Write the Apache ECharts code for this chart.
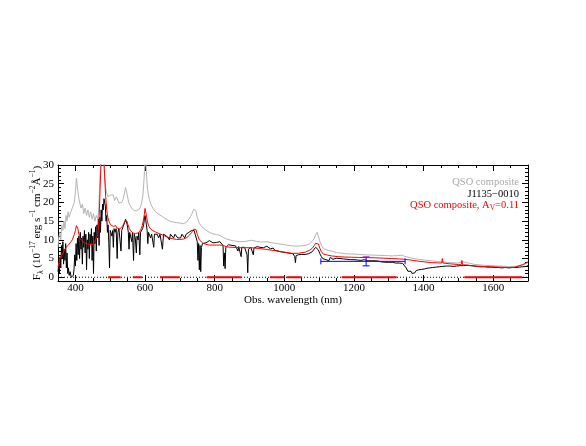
<!DOCTYPE html>
<html><head><meta charset="utf-8">
<script src="https://cdn.jsdelivr.net/npm/echarts@6/dist/echarts.min.js"></script>
<style>html,body{margin:0;padding:0;background:#fff}#c{width:586px;height:446px}</style>
</head><body><div id="c"></div>
<script>
// ---------- data ----------
const xRange = [350, 1700];
const yRange = [-1, 30];
const xMajorTicks = [400, 600, 800, 1000, 1200, 1400, 1600];
const yMajorTicks = [0, 5, 10, 15, 20, 25, 30];

// QSO composite (grey)
const compositeSpec = [
[350,8.0],[352,10.5],[355,12.0],[358,10.0],[361,14.0],[364,12.5],[367,15.0],[370,13.0],[373,16.5],[376,15.0],
[379,17.5],[382,16.0],[385,17.0],[388,16.5],[391,18.5],[394,18.0],[397,20.0],[400,23.0],[403,26.5],[405,26.0],
[407,23.0],[410,21.0],[413,20.5],[416,18.5],[420,19.5],[424,17.0],[428,18.5],[432,16.5],[436,18.0],[440,16.0],
[444,17.5],[448,15.5],[452,17.0],[456,15.0],[460,16.5],[464,15.5],[467,18.0],[469,23.0],[472,30.0],[475,35],
[478,34],[481,32],[484,27.0],[487,24.0],[490,22.5],[494,21.5],[498,21.0],[502,22.0],[506,22.5],[509,22.0],
[512,20.5],[515,20.5],[518,21.5],[521,21.0],[525,19.8],[529,19.5],[533,20.0],[537,20.8],[541,22.5],[544,24.0],
[546,23.5],[549,22.0],[553,20.0],[558,19.0],[563,18.3],[569,17.8],[575,17.8],[581,18.0],[586,18.6],[590,19.8],
[594,22.0],[597,26.0],[599,29.5],[601,32],[603,30.0],[605,26.0],[608,23.0],[612,21.0],[617,19.5],[622,18.5],
[630,17.5],[640,16.8],[650,16.2],[660,15.6],[670,15.0],[680,14.8],[690,14.6],[700,14.5],[710,14.3],[720,14.8],
[728,15.8],[734,16.8],[740,18.2],[743,18.6],[746,17.8],[750,16.0],[756,14.4],[765,13.3],[775,12.6],[785,12.0],
[795,11.6],[805,11.4],[815,11.2],[825,10.6],[835,10.2],[850,9.8],[870,9.5],[890,9.6],[905,9.9],[920,9.6],
[935,9.4],[950,9.5],[965,9.2],[980,9.0],[1000,8.7],[1020,8.4],[1040,8.3],[1060,8.5],[1072,8.9],[1080,9.6],
[1086,10.4],[1090,11.3],[1094,12.0],[1098,11.0],[1102,9.6],[1108,8.2],[1115,7.6],[1125,7.2],[1136,7.0],[1150,6.6],
[1174,6.3],[1200,6.2],[1230,6.0],[1261,5.9],[1290,5.8],[1310,5.7],[1325,5.8],[1337,5.9],[1345,5.6],[1366,5.1],
[1385,4.8],[1404,4.6],[1430,4.3],[1452,4.1],[1454,4.6],[1456,4.1],[1480,3.9],[1500,3.8],[1510,4.2],[1513,3.8],
[1548,3.4],[1575,3.2],[1596,3.1],[1620,3.0],[1644,2.9],[1660,2.9],[1672,3.0],[1685,3.3],[1696,3.7],[1700,3.9]
];

// J1135-0010 (black)
const objectSpec = [
[350,1.5],[352,3.5],[354,1.0],[356,5.5],[358,2.5],[360,8.5],[362,5.0],[364,9.5],[366,3.5],[368,7.5],
[370,4.5],[372,9.0],[374,2.5],[376,6.5],[378,1.0],[380,2.5],[382,0.5],[385,1.5],[388,0.0],[391,-0.3],
[394,0.5],[396,2.0],[398,6.0],[400,3.0],[402,9.0],[404,4.5],[406,10.5],[408,6.0],[410,11.0],[412,5.0],
[414,12.0],[416,7.5],[418,10.5],[420,3.5],[422,11.0],[424,8.0],[426,12.5],[428,6.5],[430,11.5],[432,2.0],
[434,10.0],[436,7.5],[438,12.0],[440,5.0],[442,11.5],[444,9.0],[446,13.0],[448,4.5],[450,11.0],[452,1.0],
[454,12.0],[456,9.0],[458,13.5],[460,7.0],[462,14.0],[464,10.5],[466,15.5],[468,8.5],[470,16.0],[472,12.0],
[474,18.0],[476,15.0],[478,19.5],[480,18.0],[482,21.0],[484,20.5],[486,19.0],[488,15.0],[490,16.5],[492,12.0],
[494,14.0],[496,9.0],[498,2.5],[500,12.5],[502,13.0],[505,11.0],[507,12.5],[509,8.0],[511,13.0],[514,12.0],
[517,13.0],[520,5.0],[522,12.0],[525,13.0],[528,12.5],[531,7.0],[533,12.5],[537,13.5],[541,14.5],[544,15.5],
[546,15.0],[549,14.0],[552,12.0],[554,7.5],[556,12.0],[559,11.5],[562,9.5],[564,12.0],[567,4.5],[569,11.5],
[572,10.5],[575,6.5],[577,11.0],[580,10.0],[582,12.0],[585,6.0],[587,12.0],[590,12.5],[593,13.0],[596,14.0],
[598,15.5],[600,16.5],[602,16.0],[604,14.0],[606,12.5],[608,9.0],[610,12.0],[613,11.5],[616,10.5],[619,11.5],
[622,11.0],[625,8.0],[627,11.5],[631,11.0],[635,11.5],[639,10.5],[643,11.5],[647,11.0],[650,7.5],[653,11.5],
[658,12.0],[662,11.0],[666,11.5],[670,10.0],[673,11.5],[678,11.0],[682,10.5],[686,11.5],[690,11.0],[694,10.5],
[698,11.0],[702,10.5],[706,11.5],[710,11.0],[714,10.5],[718,11.5],[722,11.0],[726,12.0],[730,11.5],[734,12.5],
[738,12.0],[741,12.5],[744,11.5],[746,12.0],[748,11.0],[750,9.5],[752,4.5],[754,9.0],[756,2.0],[758,8.5],
[760,1.5],[762,8.0],[765,9.0],[770,9.5],[775,9.2],[780,9.5],[785,9.8],[790,9.4],[795,9.2],[800,9.5],
[805,9.3],[810,9.0],[815,9.5],[820,9.2],[824,8.5],[826,3.0],[828,6.5],[830,2.3],[832,8.0],[836,8.5],
[840,8.7],[845,8.3],[850,8.5],[855,8.2],[860,8.4],[865,8.0],[867,7.0],[869,8.2],[873,8.0],[876,5.5],
[878,8.0],[882,7.8],[886,8.0],[890,7.7],[893,6.0],[895,1.2],[897,7.5],[900,7.9],[904,8.0],[908,7.6],
[911,6.0],[913,7.8],[917,7.7],[922,8.2],[926,7.8],[930,8.0],[935,7.6],[940,7.9],[945,8.1],[950,8.3],
[955,8.0],[960,7.6],[965,7.2],[968,7.8],[973,7.2],[978,7.0],[985,6.9],[990,7.0],[995,6.7],[1000,6.8],
[1005,6.6],[1010,6.5],[1015,6.4],[1020,6.2],[1025,6.3],[1030,5.5],[1032,3.9],[1034,5.8],[1040,6.0],[1045,6.2],
[1050,6.1],[1055,6.0],[1060,6.1],[1065,6.2],[1070,6.3],[1075,6.5],[1080,6.8],[1085,7.2],[1090,8.0],[1094,8.2],
[1098,7.3],[1102,6.3],[1106,5.6],[1110,5.0],[1115,4.8],[1120,4.7],[1125,4.9],[1128,4.4],[1132,5.3],[1136,5.1],
[1140,4.8],[1145,5.0],[1150,5.1],[1155,4.9],[1160,5.0],[1165,4.8],[1170,4.9],[1175,4.7],[1180,4.8],[1185,4.6],
[1190,4.7],[1195,4.6],[1200,4.7],[1205,4.5],[1210,4.6],[1215,4.7],[1220,4.5],[1225,4.6],[1230,4.7],[1235,4.5],
[1240,4.4],[1245,4.5],[1250,4.4],[1255,4.3],[1260,4.4],[1265,4.2],[1270,4.3],[1275,4.2],[1280,4.1],[1285,4.2],
[1290,4.0],[1295,4.1],[1300,4.0],[1305,3.9],[1310,4.0],[1315,3.9],[1320,3.8],[1325,3.9],[1330,3.8],[1335,3.7],
[1340,3.7],[1345,3.4],[1350,2.5],[1355,1.6],[1360,1.1],[1364,1.6],[1367,1.0],[1371,1.5],[1375,1.2],[1379,1.8],
[1382,1.3],[1386,2.0],[1390,1.5],[1394,2.1],[1398,1.6],[1402,2.2],[1406,1.8],[1410,2.4],[1414,2.0],[1418,2.5],
[1422,2.2],[1426,2.6],[1430,2.3],[1435,2.7],[1440,2.5],[1445,2.8],[1450,2.6],[1455,2.9],[1460,2.8],[1465,3.0],
[1470,2.8],[1475,3.0],[1480,3.1],[1485,2.9],[1490,3.1],[1495,3.0],[1500,3.2],[1505,3.1],[1510,3.3],[1515,3.1],
[1520,3.3],[1525,3.2],[1530,3.3],[1535,3.1],[1540,3.2],[1545,3.0],[1550,3.1],[1555,2.9],[1560,3.0],[1565,2.8],
[1570,3.0],[1575,2.8],[1580,2.9],[1585,2.7],[1590,2.9],[1595,2.7],[1600,2.8],[1605,2.6],[1610,2.8],[1615,2.6],
[1620,2.7],[1625,2.5],[1630,2.7],[1635,2.6],[1640,2.7],[1645,2.5],[1650,2.7],[1655,2.6],[1660,2.8],[1665,2.6],
[1670,2.8],[1675,2.7],[1680,2.9],[1685,2.8],[1690,3.0],[1695,2.9],[1700,3.1]
];

// QSO composite reddened, A_V = 0.11 (red)
const reddenedSpec = [
[350,2.8],[352,3.3],[355,4.8],[358,4.5],[361,6.0],[364,5.8],[367,7.0],[370,6.8],[373,8.0],[376,7.6],
[379,8.5],[382,8.3],[385,9.2],[388,9.0],[391,10.0],[394,10.4],[397,11.5],[400,12.5],[403,13.8],[405,14.0],
[407,13.0],[410,11.5],[413,10.2],[416,10.0],[420,9.8],[424,9.2],[428,9.6],[432,9.0],[436,9.3],[440,8.7],
[444,9.0],[448,8.6],[452,9.2],[456,9.5],[460,10.3],[464,11.5],[467,14.0],[469,18.0],[471,24.0],[473,29.0],
[475,33],[478,34],[481,33],[483,29.0],[485,25.0],[487,21.5],[490,18.0],[493,16.0],[497,14.8],[501,14.0],
[505,13.5],[509,13.6],[513,13.4],[516,13.8],[519,13.2],[523,13.0],[527,12.9],[531,13.1],[535,13.6],[539,14.3],
[542,15.0],[545,15.5],[548,15.0],[551,14.0],[555,13.0],[560,12.3],[566,11.8],[572,11.7],[578,11.8],[584,12.1],
[588,12.8],[592,13.8],[595,15.0],[598,16.8],[600,18.4],[602,18.0],[604,16.5],[607,14.8],[611,13.6],[616,12.9],
[622,12.5],[630,12.1],[640,11.7],[650,11.3],[660,10.9],[670,10.5],[680,10.3],[690,10.1],[700,10.1],[710,10.2],
[720,10.6],[728,11.3],[734,12.0],[739,12.8],[743,13.3],[746,12.8],[750,11.5],[756,10.0],[765,9.2],[775,8.8],
[785,8.6],[795,8.6],[805,8.6],[815,8.6],[825,8.5],[835,8.1],[850,8.0],[870,7.9],[890,7.9],[906,7.9],
[925,7.7],[945,7.5],[965,7.2],[983,7.0],[1000,6.7],[1021,6.4],[1040,6.4],[1060,6.7],[1072,7.2],[1081,7.8],
[1086,8.5],[1090,9.1],[1094,9.6],[1098,8.9],[1102,7.8],[1106,6.9],[1112,6.2],[1125,5.9],[1136,5.7],[1155,5.5],
[1174,5.4],[1194,5.35],[1213,5.3],[1237,5.25],[1261,5.2],[1285,5.1],[1308,5.0],[1330,4.9],[1347,4.8],[1366,4.55],
[1385,4.3],[1404,4.1],[1423,3.9],[1440,3.85],[1452,3.8],[1454,5.0],[1456,3.8],[1475,3.6],[1500,3.4],[1508,3.35],
[1510,4.5],[1512,3.35],[1530,3.2],[1548,3.0],[1570,2.9],[1596,2.8],[1620,2.7],[1644,2.6],[1660,2.65],[1672,3.0],
[1685,3.4],[1696,3.9],[1700,4.1]
];

// red segments along the zero line: [start, end] nm
const coverageSegments = [[494,530],[565,591],[643,700],[777,877],[959,1001],[1007,1050],[1165,1323],[1517,1684]];

// J-band photometry: [band start, band end, centre, flux, error]
const photBand = [1105, 1347];
const photCentre = [1235];
const photFlux = [4.25];
const photErr = [1.2];

// legend texts
const legendLabels = ['QSO composite', 'J1135\u22120010', 'QSO composite, A'];
const legendSub = 'V';
const legendTail = '=0.11';

// ---------- chart ----------
const FONT = 'Liberation Serif';
const chart = echarts.init(document.getElementById('c'), null, {renderer: 'canvas'});

function axisBase(extra) {
  return Object.assign({
    type: 'value',
    splitLine: {show: false},
    axisLine: {show: true, onZero: false, lineStyle: {color: '#000', width: 1}},
    axisLabel: {show: false},
  }, extra);
}
const plain = v => String(v);
const xMajor = (pos, labels) => axisBase({
  gridIndex: 0, position: pos, min: xRange[0], max: xRange[1],
  axisTick: {show: true, inside: true, length: 6, customValues: xMajorTicks, lineStyle: {color: '#000'}},
  axisLabel: labels ? {show: true, customValues: xMajorTicks, formatter: plain, color: '#000', fontFamily: FONT, fontSize: 11, margin: 2} : {show: false},
  name: labels ? 'Obs. wavelength (nm)' : '',
  nameLocation: 'middle', nameGap: 14, nameMoveOverlap: false,
  nameTextStyle: {color: '#000', fontFamily: FONT, fontSize: 11}
});
const xMinor = (pos) => axisBase({
  gridIndex: 1, position: pos, min: xRange[0], max: xRange[1], interval: 50,
  axisLine: {show: false, onZero: false},
  axisTick: {show: true, inside: true, length: 3, lineStyle: {color: '#000'}}
});
const yMajor = (pos, labels) => axisBase({
  gridIndex: 0, position: pos, min: yRange[0], max: yRange[1],
  axisTick: {show: true, inside: true, length: 6, customValues: yMajorTicks, lineStyle: {color: '#000'}},
  axisLabel: labels ? {show: true, customValues: yMajorTicks, formatter: plain, color: '#000', fontFamily: FONT, fontSize: 11, margin: 4} : {show: false},
  name: labels ? '{n|F}{sb|\u03bb}{n| (10}{sp|\u221217}{n| erg s}{sp|\u22121}{n| cm}{sp|\u22122}{n|\u00c5}{sp|\u22121}{n|)}' : '',
  nameLocation: 'middle', nameRotate: 90, nameGap: 13, nameMoveOverlap: false,
  nameTextStyle: {
    color: '#000', fontFamily: FONT, fontSize: 11,
    rich: {
      n: {fontFamily: FONT, fontSize: 11, color: '#000', lineHeight: 16},
      sp: {fontFamily: FONT, fontSize: 7.5, color: '#000', verticalAlign: 'top'},
      sb: {fontFamily: FONT, fontSize: 7.5, color: '#000', verticalAlign: 'bottom'}
    }
  }
});
const yMinor = (pos) => axisBase({
  gridIndex: 1, position: pos, min: yRange[0], max: yRange[1], interval: 1,
  axisLine: {show: false, onZero: false},
  axisTick: {show: true, inside: true, length: 3, lineStyle: {color: '#000'}}
});

const gridBox = {left: 58, right: 58, top: 165, bottom: 165, containLabel: false, outerBoundsMode: 'none'};

const lineSeries = (name, data, color, z) => ({
  name, type: 'line', data, xAxisIndex: 0, yAxisIndex: 0,
  symbol: 'none', showSymbol: false, clip: true, z,
  lineStyle: {color, width: 1}, animation: false
});

const LEG_FONT = 10.5;
const LEG_RIGHT = 586 - 519;

const option = {
  animation: false,
  backgroundColor: '#fff',
  grid: [gridBox, Object.assign({}, gridBox)],
  xAxis: [xMajor('bottom', true), xMajor('top', false), xMinor('bottom'), xMinor('top')],
  yAxis: [yMajor('left', true), yMajor('right', false), yMinor('left'), yMinor('right')],
  series: [
    {
      type: 'line', xAxisIndex: 0, yAxisIndex: 0, symbol: 'none', z: 1,
      data: [[xRange[0], 0], [xRange[1], 0]],
      lineStyle: {color: '#000', width: 1, type: [1, 2]}
    },
    {
      type: 'custom', xAxisIndex: 0, yAxisIndex: 0, z: 2,
      data: coverageSegments,
      renderItem: (params, api) => {
        const a = api.coord([api.value(0), 0]);
        const b = api.coord([api.value(1), 0]);
        return {type: 'line', shape: {x1: a[0], y1: a[1], x2: b[0], y2: b[1]},
                style: {stroke: '#ff0000', lineWidth: 2}};
      }
    },
    lineSeries('QSO composite', compositeSpec, '#b4b4b4', 3),
    lineSeries('J1135-0010', objectSpec, '#000000', 4),
    lineSeries('QSO composite, Av=0.11', reddenedSpec, '#ff0000', 5),
    {
      type: 'custom', xAxisIndex: 0, yAxisIndex: 0, z: 6,
      data: [[photBand[0], photBand[1], photCentre[0], photFlux[0], photErr[0]]],
      renderItem: (params, api) => {
        const y = api.value(3), e = api.value(4);
        const lo = api.coord([api.value(0), y]);
        const hi = api.coord([api.value(1), y]);
        const top = api.coord([api.value(2), y + e]);
        const bot = api.coord([api.value(2), y - e]);
        const blue = {stroke: '#0000ff', lineWidth: 1};
        const purple = {stroke: '#b000b0', lineWidth: 1};
        const L = (x1, y1, x2, y2, s) => ({type: 'line', shape: {x1, y1, x2, y2}, style: s});
        return {type: 'group', children: [
          L(lo[0], lo[1], hi[0], hi[1], blue),
          L(lo[0], lo[1] - 3, lo[0], lo[1] + 3, blue),
          L(hi[0], hi[1] - 3, hi[0], hi[1] + 3, blue),
          L(top[0], top[1], bot[0], bot[1], blue),
          L(bot[0] - 3.5, bot[1], bot[0] + 3.5, bot[1], blue),
          L(top[0] - 3.5, top[1], top[0] + 3.5, top[1], purple)
        ]};
      }
    }
  ],
  graphic: [
    {type: 'text', right: LEG_RIGHT, top: 177, z: 10,
     style: {text: legendLabels[0], fill: '#aaaaaa', font: LEG_FONT + 'px "Liberation Serif"', align: 'right'}},
    {type: 'text', right: LEG_RIGHT, top: 189, z: 10,
     style: {text: legendLabels[1], fill: '#000000', font: LEG_FONT + 'px "Liberation Serif"', align: 'right'}},
    {type: 'text', right: LEG_RIGHT, top: 200, z: 10,
     style: {text: '{r|' + legendLabels[2] + '}{rs|' + legendSub + '}{r|' + legendTail + '}',
             align: 'right',
             rich: {
               r: {fill: '#ff0000', fontFamily: FONT, fontSize: LEG_FONT, lineHeight: 14},
               rs: {fill: '#ff0000', fontFamily: FONT, fontSize: 7.5, verticalAlign: 'bottom'}
             }}}
  ]
};
chart.setOption(option);
</script>
</body></html>
